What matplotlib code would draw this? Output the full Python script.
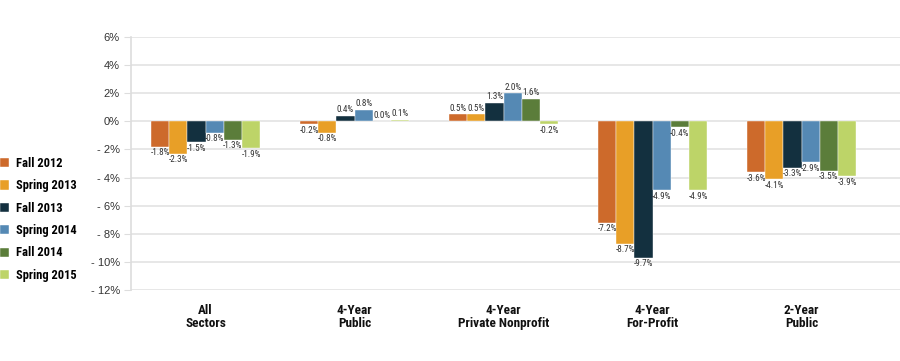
import os
import matplotlib.pyplot as plt
import numpy as np
from matplotlib import font_manager
from matplotlib.font_manager import FontProperties

# data
sectors = ['All\nSectors', '4-Year\nPublic', '4-Year\nPrivate Nonprofit',
           '4-Year\nFor-Profit', '2-Year\nPublic']
terms = ['Fall 2012', 'Spring 2013', 'Fall 2013', 'Spring 2014', 'Fall 2014', 'Spring 2015']
fall_2012 = [-1.8, -0.2, 0.5, -7.2, -3.6]
spring_2013 = [-2.3, -0.8, 0.5, -8.7, -4.1]
fall_2013 = [-1.5, 0.4, 1.3, -9.7, -3.3]
spring_2014 = [-0.8, 0.8, 2.0, -4.9, -2.9]
fall_2014 = [-1.3, 0.0, 1.6, -0.4, -3.5]
spring_2015 = [-1.9, 0.1, -0.2, -4.9, -3.9]
series = [fall_2012, spring_2013, fall_2013, spring_2014, fall_2014, spring_2015]
colors = ['#cd6a2b', '#e89f27', '#13303f', '#5589b4', '#5b7d3a', '#bdd468']
y_ticks = [6, 4, 2, 0, -2, -4, -6, -8, -10, -12]


# pick a condensed font file, if any is around
def pick(cands):
    files = {os.path.basename(f.fname): f.fname for f in font_manager.fontManager.ttflist}
    for c in cands:
        if c in files:
            return files[c]
    return None


reg_file = pick(['RobotoCondensed-Regular.ttf', 'ArchivoNarrow[wght].ttf',
                 'DejaVuSansCondensed.ttf'])
bold_file = pick(['RobotoCondensed-Bold.ttf', 'AsapCondensed-Bold.ttf',
                  'DejaVuSansCondensed-Bold.ttf'])


def fp(f, size, weight='normal'):
    if f:
        return FontProperties(fname=f, size=size)
    return FontProperties(family='DejaVu Sans', size=size, weight=weight)


fig = plt.figure(figsize=(9, 3.61), dpi=100)
ax = fig.add_axes([131 / 900, 1 - 290 / 361, 769 / 900, 253 / 361])

index = np.arange(len(sectors))
width = 0.122
for i, (vals, color, term) in enumerate(zip(series, colors, terms)):
    x = index + (i - 2.5) * width
    ax.bar(x, vals, width, color=color, label=term, zorder=3,
           edgecolor='white', linewidth=0.3)
    for xx, v in zip(x, vals):
        if v >= 0:
            ax.text(xx, v + 0.12, '{:.1f}%'.format(v), ha='center', va='bottom',
                    fontproperties=fp(reg_file, 6.6), color='#333333', zorder=4)
        else:
            ax.text(xx, v - 0.12, '{:.1f}%'.format(v), ha='center', va='top',
                    fontproperties=fp(reg_file, 6.6), color='#333333', zorder=4)

ax.set_xlim(-0.5, 4.66)
ax.set_ylim(-12, 6)
ax.set_yticks(y_ticks)
ax.set_yticklabels(['{}%'.format(t) if t >= 0 else '- {}%'.format(-t) for t in y_ticks],
                   family='Liberation Sans')
ax.tick_params(axis='y', length=5, color='#dddddd', labelsize=8, labelcolor='#333333', pad=3)
ax.yaxis.grid(True, color='#e3e3e3', linewidth=1.2, zorder=0)
ax.set_xticks([])
for s in ['top', 'right', 'bottom']:
    ax.spines[s].set_visible(False)
ax.spines['left'].set_color('#dddddd')
ax.spines['left'].set_linewidth(1.2)

for xx, name in zip(index, sectors):
    ax.text(xx, -13.0, name, ha='center', va='top', fontproperties=fp(bold_file, 9.5, 'bold'),
            color='#111111', linespacing=1.0, clip_on=False)

leg = fig.legend(loc='upper left', bbox_to_anchor=(0.0, 1 - 157 / 361), frameon=False,
                 handlelength=0.75, handleheight=0.75, handletextpad=0.5,
                 labelspacing=0.75, borderaxespad=0, borderpad=0,
                 prop=fp(bold_file, 9, 'bold'))

fig.savefig('out.png', dpi=100)
